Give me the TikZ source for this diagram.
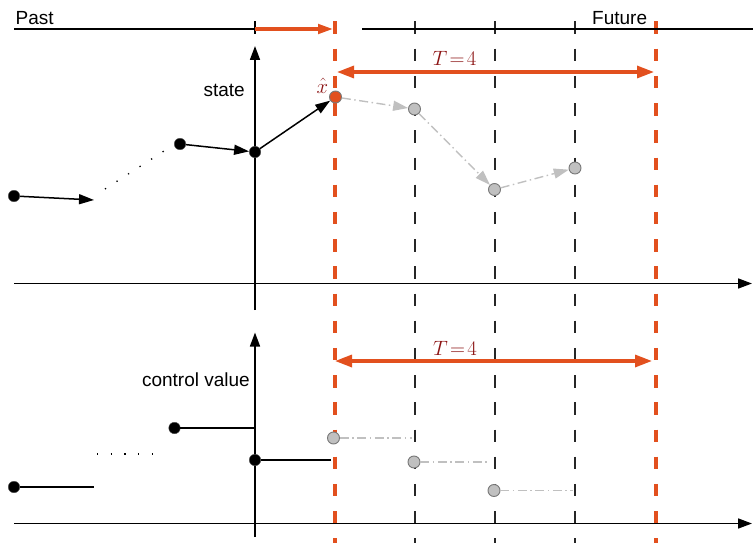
\documentclass[tikz,border=0pt]{standalone}
\usepackage[no-math]{fontspec}
\setmainfont{Liberation Sans}
\usetikzlibrary{arrows.meta}
\definecolor{org}{RGB}{226,80,30}
\definecolor{dred}{RGB}{140,20,20}
\definecolor{lgray}{RGB}{192,192,192}
\definecolor{mgray}{RGB}{120,120,120}
\tikzset{
  bdot/.style={circle, fill=black, draw=black!70, line width=0.4pt, minimum size=11.5pt, inner sep=0pt},
  gdot/.style={circle, fill=lgray, draw=mgray, line width=0.9pt, minimum size=12pt, inner sep=0pt},
  odot/.style={circle, fill=org, draw=mgray, line width=0.9pt, minimum size=12pt, inner sep=0pt},
  blkarr/.style={line width=1.5pt, -{Triangle[length=15pt,width=10pt]}},
  blkline/.style={line width=1.5pt},
  garr/.style={lgray, line width=1.4pt, dash pattern=on 9pt off 3.5pt on 1.5pt off 3.5pt, -{Triangle[length=15pt,width=10pt]}},
  gline/.style={lgray, line width=1.4pt, dash pattern=on 9pt off 3.5pt on 1.5pt off 3.5pt},
  axisarr/.style={line width=1.6pt, -{Triangle[length=14pt,width=10pt]}},
  vdash/.style={line width=1.6pt, black!85, dash pattern=on 12.5pt off 14.7pt},
  odash/.style={org, line width=3.2pt, dash pattern=on 12.5pt off 14.7pt},
  oarr/.style={org, line width=3.2pt, {Triangle[length=17pt,width=12pt]}-{Triangle[length=17pt,width=12pt]}},
  osmall/.style={org, line width=3.2pt, -{Triangle[length=15pt,width=9.5pt]}},
  dotline/.style={line width=1.3pt, dash pattern=on 1.3pt off 12.4pt},
  lab/.style={font=\fontsize{19}{22}\selectfont, inner sep=0pt},
  mlab/.style={font=\fontsize{22}{26}\selectfont, text=dred, inner sep=0pt},
}
\begin{document}
\begin{tikzpicture}[x=1pt, y=-1pt]
\useasboundingbox (0,0) rectangle (753,543);
% vertical dashed lines
\coordinate (o1t) at (335,21.5); \coordinate (o1b) at (335,543);
\coordinate (o2t) at (656,21.5); \coordinate (o2b) at (656,543);
\coordinate (v1t) at (415,21.5); \coordinate (v1b) at (415,543);
\coordinate (v2t) at (495,21.5); \coordinate (v2b) at (495,543);
\coordinate (v3t) at (575,21.5); \coordinate (v3b) at (575,543);
\draw[vdash] (v1t) -- (v1b);
\draw[vdash] (v2t) -- (v2b);
\draw[vdash] (v3t) -- (v3b);
\draw[odash] (o1t) -- (o1b);
\draw[odash] (o2t) -- (o2b);
% top time line
\coordinate (tl0) at (14,29); \coordinate (tl1) at (255,29);
\coordinate (tl2) at (333,29); \coordinate (tl3) at (362,29); \coordinate (tl4) at (753,29);
\draw[blkline] (tl0) -- (tl1);
\draw[blkline] (tl3) -- (tl4);
\coordinate (tk0) at (255,21.5); \coordinate (tk1) at (255,34.5);
\draw[blkline] (tk0) -- (tk1);
\draw[osmall] (tl1) -- (tl2);
\node[lab, anchor=base west] (past) at (15.5,24.3) {Past};
\node[lab, anchor=base west] (future) at (592,24.3) {Future};
% upper axes
\coordinate (ua0) at (255,310); \coordinate (ua1) at (255,46);
\draw[axisarr] (ua0) -- (ua1);
\coordinate (uh0) at (14,283.5); \coordinate (uh1) at (752,283.5);
\draw[axisarr] (uh0) -- (uh1);
\node[lab, anchor=base east] (state) at (245,96) {state};
% lower axes
\coordinate (la0) at (255,537); \coordinate (la1) at (255,332.5);
\draw[axisarr] (la0) -- (la1);
\coordinate (lh0) at (14,523.5); \coordinate (lh1) at (752,523.5);
\draw[axisarr] (lh0) -- (lh1);
\node[lab, anchor=base east] (cv) at (250,386) {control value};
% horizon arrows
\coordinate (t1a) at (337,72); \coordinate (t1b) at (654,72);
\draw[oarr] (t1a) -- (t1b);
\node[mlab, anchor=base] (T1) at (454.5,66) {$T\!=\!4$};
\coordinate (t2a) at (335,361); \coordinate (t2b) at (652,361);
\draw[oarr] (t2a) -- (t2b);
\node[mlab, anchor=base] (T2) at (455,355.5) {$T\!=\!4$};
% upper state trajectory
\node[bdot] (a1) at (14,196) {};
\coordinate (a1e) at (94,200);
\draw[blkarr] (a1) -- (a1e);
\coordinate (d1) at (105,189); \coordinate (d2) at (164,151);
\draw[dotline] (d1) -- (d2);
\node[bdot] (a2) at (180,144) {};
\node[bdot] (a3) at (255,152) {};
\draw[blkarr] (a2) -- (a3);
\node[odot] (x0) at (335.5,97) {};
\draw[blkarr] (a3) -- (x0);
\node[mlab, anchor=base, font=\fontsize{22}{26}\selectfont] (xh) at (322.5,93) {$\hat{x}$};
\node[gdot] (g1) at (414.5,109) {};
\node[gdot] (g2) at (494.5,189.5) {};
\node[gdot] (g3) at (575,168) {};
\draw[garr] (x0) -- (g1);
\draw[garr] (g1) -- (g2);
\draw[garr] (g2) -- (g3);
% lower control trajectory
\node[bdot] (b1) at (14,487) {};
\coordinate (b1e) at (94,487);
\draw[blkline] (b1) -- (b1e);
\coordinate (e1) at (97,454); \coordinate (e2) at (154,454);
\draw[dotline] (e1) -- (e2);
\node[bdot] (b2) at (174.5,428) {};
\coordinate (b2e) at (255,428);
\draw[blkline] (b2) -- (b2e);
\node[bdot] (b3) at (255,460) {};
\coordinate (b3e) at (331,460);
\draw[blkline] (b3) -- (b3e);
\node[gdot] (c1) at (333.5,438) {};
\coordinate (c1e) at (412,438);
\draw[gline] (c1) -- (c1e);
\node[gdot] (c2) at (414,462) {};
\coordinate (c2e) at (489,462);
\draw[gline] (c2) -- (c2e);
\node[gdot] (c3) at (494,490.5) {};
\coordinate (c3e) at (572.5,490.5);
\draw[gline] (c3) -- (c3e);
\end{tikzpicture}
\end{document}
